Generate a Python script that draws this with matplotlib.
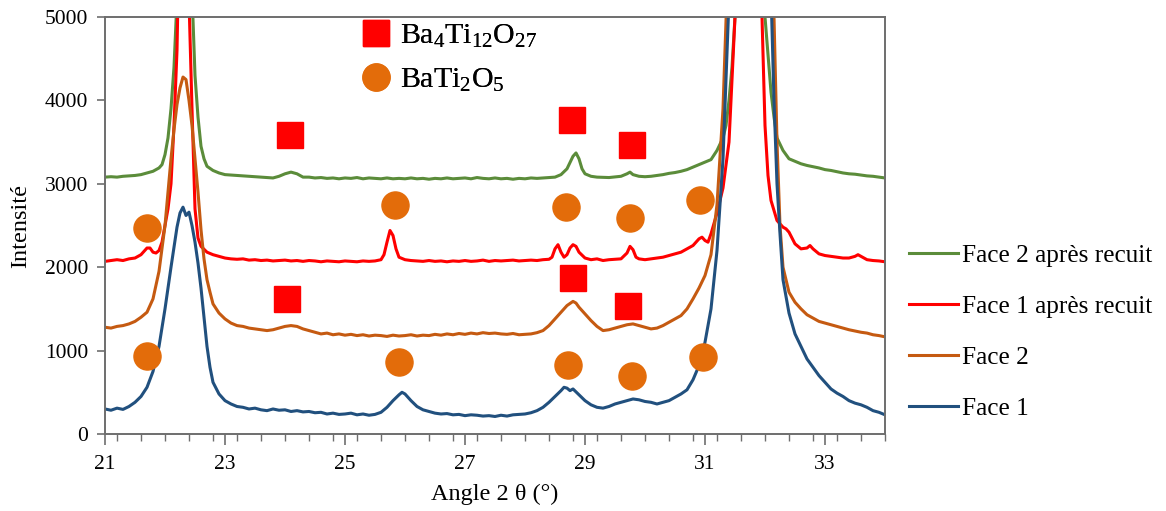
import matplotlib
matplotlib.use("Agg")
import matplotlib.pyplot as plt
from matplotlib.lines import Line2D
from matplotlib.ticker import MultipleLocator

# ---------------- data ----------------
face1_x = [21.0, 21.1, 21.2, 21.3, 21.4, 21.5, 21.6, 21.7, 21.8, 21.9, 22.0, 22.1, 22.2, 22.25, 22.3, 22.35, 22.4,
           22.45, 22.5, 22.55, 22.6, 22.65, 22.7, 22.75, 22.8, 22.9, 23.0, 23.1, 23.2, 23.3, 23.4, 23.5, 23.6, 23.7,
           23.8, 23.9, 24.0, 24.1, 24.2, 24.3, 24.4, 24.5, 24.6, 24.7, 24.8, 24.9, 25.0, 25.1, 25.2, 25.3, 25.4, 25.5,
           25.6, 25.7, 25.8, 25.9, 25.95, 26.0, 26.1, 26.2, 26.3, 26.4, 26.5, 26.6, 26.7, 26.8, 26.9, 27.0, 27.1, 27.2,
           27.3, 27.4, 27.5, 27.6, 27.7, 27.8, 27.9, 28.0, 28.1, 28.2, 28.3, 28.4, 28.5, 28.6, 28.65, 28.7, 28.75, 28.8,
           28.9, 29.0, 29.1, 29.2, 29.3, 29.4, 29.5, 29.6, 29.7, 29.8, 29.9, 30.0, 30.1, 30.2, 30.3, 30.4, 30.5, 30.6,
           30.7, 30.8, 30.9, 31.0, 31.1, 31.2, 31.3, 31.4, 31.5, 31.7, 31.9, 32.0, 32.1, 32.15, 32.2, 32.25, 32.3, 32.4,
           32.5, 32.6, 32.7, 32.8, 32.9, 33.0, 33.1, 33.2, 33.3, 33.4, 33.5, 33.6, 33.7, 33.8, 33.9, 34.0]
face1_y = [300, 285, 310, 295, 330, 380, 450, 560, 750, 1050, 1500, 2000, 2480, 2650, 2720, 2620, 2660,
           2500, 2300, 2050, 1750, 1400, 1050, 800, 620, 480, 400, 360, 330, 320, 300, 310, 290, 280,
           300, 285, 290, 270, 280, 265, 270, 255, 260, 240, 250, 235, 240, 250, 230, 240, 225, 235,
           260, 320, 400, 470, 500, 480, 400, 330, 290, 270, 250, 240, 245, 230, 235, 220, 230, 225,
           215, 220, 210, 225, 215, 230, 235, 240, 255, 280, 320, 380, 450, 520, 560, 550, 520, 540,
           470, 400, 350, 320, 310, 330, 360, 380, 400, 420, 410, 390, 380, 360, 380, 400, 440, 480,
           530, 650, 820, 1100, 1500, 2200, 3300, 5200, 8000, 30000, 9000, 7000, 5300, 4000, 3000, 2400, 1850, 1450,
           1200, 1050, 900, 800, 700, 620, 540, 490, 450, 400, 370, 350, 320, 280, 260, 230]

face2_x = [21.0, 21.1, 21.2, 21.3, 21.4, 21.5, 21.6, 21.7, 21.8, 21.9, 22.0, 22.05, 22.1, 22.15, 22.2, 22.25, 22.3,
           22.35, 22.4, 22.45, 22.5, 22.55, 22.6, 22.65, 22.7, 22.75, 22.8, 22.9, 23.0, 23.1, 23.2, 23.3, 23.4, 23.5,
           23.6, 23.7, 23.8, 23.9, 24.0, 24.1, 24.2, 24.3, 24.4, 24.5, 24.6, 24.7, 24.8, 24.9, 25.0, 25.1, 25.2, 25.3,
           25.4, 25.5, 25.6, 25.7, 25.8, 25.9, 26.0, 26.1, 26.2, 26.3, 26.4, 26.5, 26.6, 26.7, 26.8, 26.9, 27.0, 27.1,
           27.2, 27.3, 27.4, 27.5, 27.6, 27.7, 27.8, 27.9, 28.0, 28.1, 28.2, 28.3, 28.4, 28.5, 28.6, 28.7, 28.8, 28.85,
           28.9, 29.0, 29.1, 29.2, 29.3, 29.4, 29.5, 29.6, 29.7, 29.8, 29.9, 30.0, 30.1, 30.2, 30.3, 30.4, 30.5, 30.6,
           30.7, 30.8, 30.9, 31.0, 31.1, 31.2, 31.3, 31.4, 31.5, 31.7, 31.9, 32.0, 32.1, 32.15, 32.2, 32.25, 32.3, 32.4,
           32.5, 32.6, 32.7, 32.8, 32.9, 33.0, 33.1, 33.2, 33.3, 33.4, 33.5, 33.6, 33.7, 33.8, 33.9, 34.0]
face2_y = [1280, 1270, 1290, 1300, 1320, 1350, 1400, 1460, 1620, 1950, 2500, 2900, 3300, 3650, 3950, 4150, 4280,
           4250, 4000, 3700, 3300, 2900, 2450, 2100, 1850, 1700, 1560, 1450, 1380, 1330, 1300, 1290, 1270, 1260,
           1250, 1240, 1250, 1270, 1290, 1300, 1290, 1260, 1240, 1220, 1200, 1210, 1190, 1200, 1185, 1195, 1180, 1190,
           1175, 1185, 1180, 1170, 1185, 1175, 1180, 1190, 1175, 1185, 1180, 1195, 1185, 1200, 1190, 1205, 1195, 1210,
           1200, 1215, 1205, 1210, 1200, 1195, 1205, 1190, 1195, 1200, 1215, 1240, 1300, 1380, 1460, 1540, 1590, 1570,
           1520, 1440, 1360, 1290, 1240, 1250, 1270, 1290, 1310, 1320, 1300, 1280, 1260, 1270, 1300, 1340, 1380, 1420,
           1500, 1620, 1750, 1900, 2150, 2750, 3900, 6000, 11000, 35000, 12000, 8500, 6000, 5000, 3500, 2500, 2000, 1700,
           1580, 1500, 1430, 1390, 1350, 1330, 1310, 1290, 1270, 1250, 1235, 1220, 1210, 1190, 1180, 1165]

face1r_x = [21.0, 21.1, 21.2, 21.3, 21.4, 21.5, 21.6, 21.7, 21.75, 21.8, 21.85, 21.9, 21.95, 22.0, 22.05, 22.1, 22.15,
            22.2, 22.25, 22.3, 22.35, 22.4, 22.45, 22.5, 22.55, 22.6, 22.7, 22.8, 22.9, 23.0, 23.1, 23.2, 23.3, 23.4,
            23.5, 23.6, 23.7, 23.8, 23.9, 24.0, 24.1, 24.2, 24.3, 24.4, 24.5, 24.6, 24.7, 24.8, 24.9, 25.0, 25.1, 25.2,
            25.3, 25.4, 25.5, 25.6, 25.65, 25.7, 25.75, 25.8, 25.85, 25.9, 26.0, 26.1, 26.2, 26.3, 26.4, 26.5, 26.6,
            26.7, 26.8, 26.9, 27.0, 27.1, 27.2, 27.3, 27.4, 27.5, 27.6, 27.7, 27.8, 27.9, 28.0, 28.1, 28.2, 28.3, 28.4,
            28.45, 28.5, 28.55, 28.6, 28.65, 28.7, 28.75, 28.8, 28.85, 28.9, 29.0, 29.1, 29.2, 29.3, 29.4, 29.5, 29.6,
            29.7, 29.75, 29.8, 29.85, 29.9, 30.0, 30.1, 30.2, 30.3, 30.4, 30.5, 30.6, 30.7, 30.8, 30.9, 30.95, 31.0,
            31.05, 31.1, 31.2, 31.3, 31.4, 31.5, 31.6, 31.7, 31.8, 31.9, 31.95, 32.0, 32.05, 32.1, 32.2, 32.3, 32.35,
            32.4, 32.5, 32.6, 32.7, 32.75, 32.8, 32.9, 33.0, 33.1, 33.2, 33.3, 33.4, 33.5, 33.55, 33.6, 33.7, 33.8,
            33.9, 34.0]
face1r_y = [2070, 2080, 2090, 2080, 2100, 2110, 2150, 2230, 2230, 2180, 2170, 2200, 2300, 2500, 2700, 3000, 3700,
            4600, 6500, 9500, 7500, 5200, 3900, 2700, 2350, 2250, 2180, 2150, 2130, 2110, 2100, 2095, 2100, 2085,
            2090, 2080, 2085, 2075, 2080, 2085, 2075, 2080, 2070, 2080, 2075, 2065, 2075, 2070, 2065, 2075, 2070, 2065,
            2075, 2070, 2075, 2090, 2150, 2300, 2440, 2380, 2220, 2120, 2090, 2080, 2075, 2070, 2080, 2070, 2075,
            2065, 2075, 2070, 2080, 2070, 2075, 2085, 2070, 2080, 2075, 2080, 2085, 2075, 2080, 2085, 2080, 2090, 2095,
            2120, 2220, 2270, 2180, 2120, 2150, 2230, 2270, 2250, 2180, 2110, 2090, 2100, 2080, 2090, 2095, 2100,
            2170, 2250, 2210, 2120, 2100, 2090, 2100, 2110, 2120, 2140, 2160, 2180, 2220, 2260, 2340, 2360, 2320,
            2300, 2400, 2650, 2950, 3500, 5000, 9000, 25000, 12000, 6500, 5000, 3700, 3100, 2800, 2560, 2480, 2460,
            2420, 2280, 2220, 2230, 2260, 2220, 2160, 2140, 2130, 2120, 2110, 2110, 2130, 2150, 2130, 2090, 2080,
            2075, 2065]

face2r_x = [21.0, 21.1, 21.2, 21.3, 21.4, 21.5, 21.6, 21.7, 21.8, 21.9, 21.95, 22.0, 22.05, 22.1, 22.15, 22.2, 22.3,
            22.35, 22.45, 22.5, 22.55, 22.6, 22.65, 22.7, 22.8, 22.9, 23.0, 23.2, 23.4, 23.6, 23.8, 23.9, 24.0, 24.1,
            24.2, 24.3, 24.4, 24.5, 24.6, 24.7, 24.8, 24.9, 25.0, 25.1, 25.2, 25.3, 25.4, 25.5, 25.6, 25.7, 25.8, 25.9,
            26.0, 26.1, 26.2, 26.3, 26.4, 26.5, 26.6, 26.7, 26.8, 26.9, 27.0, 27.1, 27.2, 27.3, 27.4, 27.5, 27.6, 27.7,
            27.8, 27.9, 28.0, 28.1, 28.2, 28.3, 28.4, 28.5, 28.6, 28.7, 28.8, 28.85, 28.9, 28.95, 29.0, 29.1, 29.2,
            29.4, 29.6, 29.7, 29.75, 29.8, 29.9, 30.0, 30.1, 30.2, 30.3, 30.4, 30.5, 30.6, 30.7, 30.8, 30.9, 31.0,
            31.1, 31.2, 31.3, 31.35, 31.4, 31.45, 31.5, 31.6, 31.75, 31.9, 32.0, 32.1, 32.15, 32.2, 32.3, 32.4, 32.5,
            32.6, 32.7, 32.8, 32.9, 33.0, 33.1, 33.2, 33.3, 33.4, 33.5, 33.6, 33.7, 33.8, 33.9, 34.0]
face2r_y = [3080, 3085, 3080, 3090, 3095, 3100, 3110, 3130, 3150, 3190, 3230, 3350, 3550, 3900, 4400, 5200, 12000,
            10000, 5300, 4300, 3800, 3450, 3300, 3210, 3160, 3130, 3110, 3100, 3090, 3080, 3070, 3090, 3120, 3140,
            3120, 3080, 3080, 3070, 3075, 3065, 3070, 3060, 3070, 3065, 3075, 3060, 3070, 3065, 3060, 3070, 3060, 3065,
            3060, 3070, 3060, 3065, 3055, 3065, 3060, 3070, 3060, 3065, 3070, 3060, 3075, 3065, 3060, 3070, 3060, 3065,
            3055, 3065, 3060, 3070, 3065, 3070, 3075, 3080, 3110, 3180, 3330, 3370, 3300, 3180, 3120, 3090, 3080,
            3075, 3090, 3120, 3140, 3110, 3090, 3085, 3090, 3100, 3110, 3125, 3135, 3150, 3170, 3200, 3230, 3260,
            3290, 3400, 3550, 3700, 4000, 4400, 5000, 9000, 25000, 8000, 5000, 4100, 3800, 3550, 3400, 3300, 3270,
            3240, 3220, 3205, 3190, 3170, 3160, 3145, 3130, 3120, 3115, 3105, 3095, 3090, 3080, 3070]

ba4_x = [24.08, 28.78, 29.78, 24.03, 28.8, 29.72]
ba4_y = [3590, 3770, 3470, 1620, 1870, 1540]
bati_x = [21.7, 25.83, 28.68, 29.75, 30.92, 21.7, 25.9, 28.72, 29.78, 30.97]
bati_y = [2470, 2750, 2720, 2590, 2810, 940, 865, 830, 700, 925]

series_labels = ["Face 2 après recuit", "Face 1 après recuit", "Face 2", "Face 1"]
phase_labels = [r"$\mathrm{Ba_4Ti_{12}O_{27}}$", r"$\mathrm{BaTi_2O_5}$"]
x_ticks = [21, 23, 25, 27, 29, 31, 33]
y_ticks = [0, 1000, 2000, 3000, 4000, 5000]

# ---------------- style ----------------
plt.rcParams['font.family'] = ['Liberation Serif', 'DejaVu Serif']
plt.rcParams['mathtext.fontset'] = 'custom'
plt.rcParams['mathtext.rm'] = 'Liberation Serif'
plt.rcParams['mathtext.it'] = 'Liberation Serif:italic'
plt.rcParams['mathtext.bf'] = 'Liberation Serif:bold'

c_green = "#5B8C3A"
c_red = "#FF0000"
c_orange = "#C55A11"
c_blue = "#21507E"
c_marker = "#E36C0A"
spine_c = "#6E6E6E"

fig = plt.figure(figsize=(11.66, 5.11), dpi=100)
ax = fig.add_axes([105/1166, 1-434/511, 780/1166, 417/511])

lw = 2.2
l_g, = ax.plot(face2r_x, face2r_y, color=c_green, lw=lw, label=series_labels[0])
l_r, = ax.plot(face1r_x, face1r_y, color=c_red, lw=lw, label=series_labels[1])
l_o, = ax.plot(face2_x, face2_y, color=c_orange, lw=lw, label=series_labels[2])
l_b, = ax.plot(face1_x, face1_y, color=c_blue, lw=lw, label=series_labels[3])

ax.plot(ba4_x, ba4_y, ls='none', marker='s', ms=18.5, color=c_red, mec=c_red, zorder=5)
ax.plot(bati_x, bati_y, ls='none', marker='o', ms=19.5, color=c_marker, mec=c_marker, zorder=5)

ax.set_xlim(21, 34)
ax.set_ylim(0, 5000)
ax.set_xticks(x_ticks)
ax.xaxis.set_minor_locator(MultipleLocator(0.4))
ax.set_yticks(y_ticks)

for s in ax.spines.values():
    s.set_color(spine_c)
    s.set_linewidth(1.4)

ax.tick_params(axis='x', which='major', direction='out', length=8, width=1.2, color=spine_c,
               labelsize=15.5, pad=7)
ax.tick_params(axis='x', which='minor', direction='out', length=5, width=1.0, color=spine_c)
ax.tick_params(axis='y', which='major', direction='out', length=6, width=1.2, color=spine_c,
               labelsize=15.5, pad=6)

ax.set_xlabel("Angle 2 θ (°)", fontsize=17.5, labelpad=7)
ax.set_ylabel("Intensité", fontsize=17.5, labelpad=10)

# phase marker legend
h_sq = Line2D([], [], ls='none', marker='s', ms=18.5, color=c_red)
h_ci = Line2D([], [], ls='none', marker='o', ms=19.5, color=c_marker)
leg1 = ax.legend([h_sq, h_ci], phase_labels, loc='upper left', bbox_to_anchor=(0.313, 1.015),
                 frameon=False, fontsize=21.5, handlelength=1.0, handletextpad=0.3, labelspacing=0.55,
                 borderaxespad=0)
ax.add_artist(leg1)

fig.legend([l_g, l_r, l_o, l_b], series_labels, loc='center left', bbox_to_anchor=(0.760, 0.350),
           frameon=False, fontsize=18.2, handlelength=1.95, handletextpad=0.15, labelspacing=1.12)

fig.savefig("out.png", dpi=100)
